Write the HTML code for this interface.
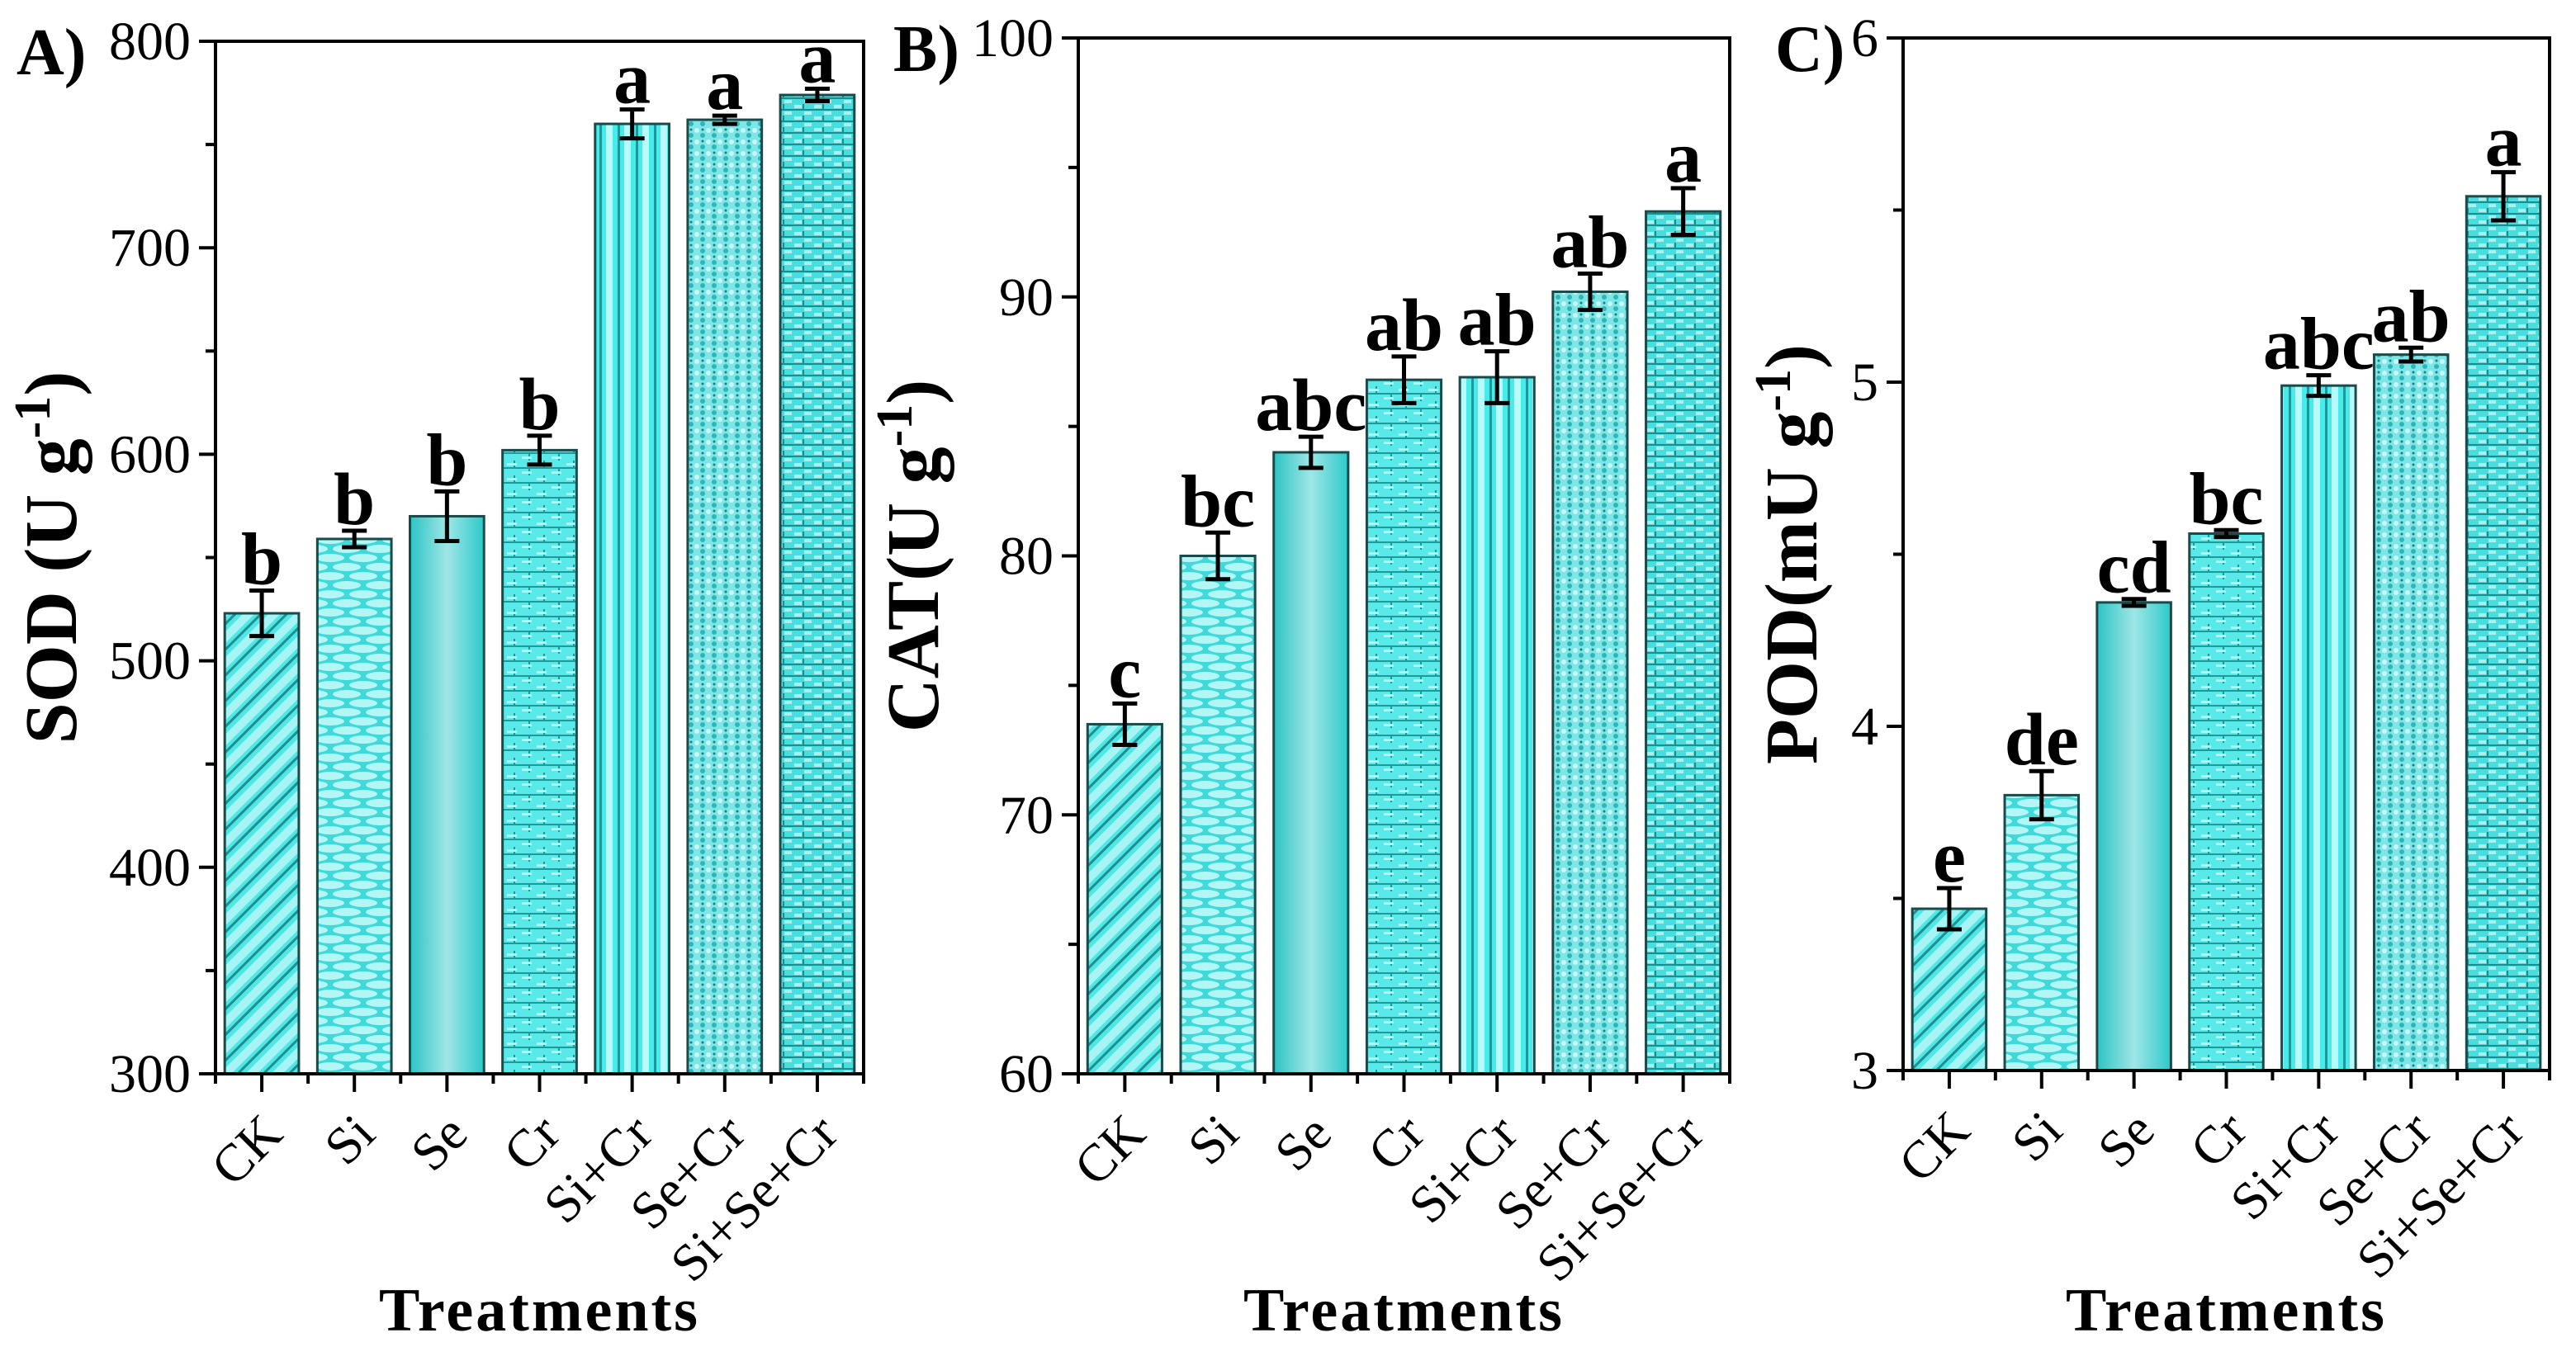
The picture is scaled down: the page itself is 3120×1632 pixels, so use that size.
<!DOCTYPE html>
<html><head><meta charset="utf-8">
<style>
html,body{margin:0;padding:0;background:#fff;}
svg{display:block;font-family:"Liberation Serif",serif;}
</style></head>
<body>
<svg id="chart" width="3120" height="1632" viewBox="0 0 3120 1632" xmlns="http://www.w3.org/2000/svg">
<defs>
  <pattern id="p0" patternUnits="userSpaceOnUse" width="22" height="22" patternTransform="rotate(45)">
    <rect width="22" height="22" fill="#4fe6e6"/><rect x="0" y="0" width="3" height="22" fill="#1f8f8f"/><rect x="8" width="10" height="22" fill="#a6f4f4"/>
  </pattern>
  <pattern id="p1" patternUnits="userSpaceOnUse" width="40" height="22">
    <rect width="40" height="22" fill="#3fd9d9"/><ellipse cx="20" cy="5" rx="17" ry="5" fill="#b3f6f6"/><ellipse cx="0" cy="16" rx="17" ry="5" fill="#b3f6f6"/><ellipse cx="40" cy="16" rx="17" ry="5" fill="#b3f6f6"/>
  </pattern>
  <linearGradient id="p2" x1="0" x2="1" y1="0" y2="0">
    <stop offset="0" stop-color="#2cc4c4"/><stop offset="0.5" stop-color="#9fe6e6"/><stop offset="1" stop-color="#2ccaca"/>
  </linearGradient>
  <pattern id="p3" patternUnits="userSpaceOnUse" width="36" height="18">
    <rect width="36" height="18" fill="#5ae9e9"/><rect y="8" width="36" height="2" fill="#1f9a9a"/><rect x="10" y="0" width="2" height="8" fill="#1f9a9a"/><rect x="28" y="10" width="2" height="8" fill="#1f9a9a"/><rect x="2" y="3" width="12" height="3" fill="#b8f7f7"/><rect x="20" y="13" width="12" height="3" fill="#b8f7f7"/>
  </pattern>
  <pattern id="p4" patternUnits="userSpaceOnUse" width="22" height="10">
    <rect width="22" height="10" fill="#49eaea"/><rect x="0" width="3" height="10" fill="#169a9a"/><rect x="8" width="8" height="10" fill="#b6fafa"/>
  </pattern>
  <pattern id="p5" patternUnits="userSpaceOnUse" width="14" height="14">
    <rect width="14" height="14" fill="#7ee6e6"/><circle cx="4" cy="4" r="3" fill="#c8f7f7"/><circle cx="11" cy="10" r="3" fill="#2fb7b7"/><circle cx="11" cy="3" r="1.5" fill="#167f7f"/>
  </pattern>
  <pattern id="p6" patternUnits="userSpaceOnUse" width="24" height="14">
    <rect width="24" height="14" fill="#48dede"/><rect y="6" width="24" height="2" fill="#1b8f8f"/><rect x="2" y="1" width="9" height="4" fill="#a8f1f1"/><rect x="14" y="9" width="9" height="4" fill="#a8f1f1"/><rect x="12" y="0" width="2" height="6" fill="#1b8f8f"/>
  </pattern>
</defs>
</svg>
<script>
const categories = ["CK","Si","Se","Cr","Si+Cr","Se+Cr","Si+Se+Cr"];
const sodValues = [523, 559, 570, 602, 760, 762, 774];
const sodErrors = [11, 4, 12, 7, 7, 2, 3];
const sodLetters = ["b","b","b","b","a","a","a"];
const sodTicks = [300, 400, 500, 600, 700, 800];
const catValues = [73.5, 80.0, 84.0, 86.8, 86.9, 90.2, 93.3];
const catErrors = [0.8, 0.9, 0.6, 0.9, 1.0, 0.7, 0.9];
const catLetters = ["c","bc","abc","ab","ab","ab","a"];
const catTicks = [60, 70, 80, 90, 100];
const podValues = [3.47, 3.80, 4.36, 4.56, 4.99, 5.08, 5.54];
const podErrors = [0.06, 0.07, 0.01, 0.01, 0.03, 0.02, 0.07];
const podLetters = ["e","de","cd","bc","abc","ab","a"];
const podTicks = [3, 4, 5, 6];

const NS = "http://www.w3.org/2000/svg";
const svg = document.getElementById("chart");
function mk(tag, attrs, parent, text){
  const e = document.createElementNS(NS, tag);
  for (const k in attrs) e.setAttribute(k, attrs[k]);
  if (text !== undefined) e.textContent = text;
  (parent||svg).appendChild(e);
  return e;
}
const fills = ["url(#p0)","url(#p1)","url(#p2)","url(#p3)","url(#p4)","url(#p5)","url(#p6)"];

function panel(id, label, title, titleSup, x0, x1, y0, y1, ticks, values, errors, letters, titleX, labelX){
  const g = mk("g", {});
  
  
  const lo = ticks[0], hi = ticks[ticks.length-1];
  const yS = v => y1 - (v - lo) / (hi - lo) * (y1 - y0);
  const slot = (x1 - x0) / categories.length;
  const xS = i => x0 + slot * (i + 0.5);
  const bw = slot * 0.8;
  values.forEach((v, i) => {
    const r = mk("rect", {x: xS(i) - bw/2, y: yS(v), width: bw, height: y1 - yS(v), fill: fills[i], stroke: "#1a4a4a", "stroke-width": 3}, g);
    
    
    const e = errors[i], cx = xS(i);
    const eb = mk("path", {d: `M${cx},${yS(v+e)}V${yS(v-e)}M${cx-15},${yS(v+e)}H${cx+15}M${cx-15},${yS(v-e)}H${cx+15}`, stroke: "#000", "stroke-width": 5, fill: "none"}, g);
    
    
    const t = mk("text", {x: cx, y: yS(v+e) - 8, "text-anchor": "middle", "font-size": 90, "font-weight": "bold"}, g, letters[i]);
    
    
    const c = mk("text", {x: 0, y: 0, "text-anchor": "end", "font-size": 64, transform: `translate(${cx+28},${y1+76}) rotate(-45)`}, g, categories[i]);
    
    
  });
  for (let i = 0; i <= categories.length; i++){
    mk("line", {x1: x0 + slot*i, x2: x0 + slot*i, y1: y1, y2: y1 + 12, stroke: "#000", "stroke-width": 4}, g);
    if (i < categories.length) mk("line", {x1: xS(i), x2: xS(i), y1: y1, y2: y1 + 22, stroke: "#000", "stroke-width": 4}, g);
  }
  ticks.forEach((t, k) => {
    const y = yS(t);
    mk("line", {x1: x0 - 20, x2: x0, y1: y, y2: y, stroke: "#000", "stroke-width": 4}, g);
    if (k < ticks.length - 1){
      const ym = yS((t + ticks[k+1]) / 2);
      mk("line", {x1: x0 - 12, x2: x0, y1: ym, y2: ym, stroke: "#000", "stroke-width": 4}, g);
    }
    const tl = mk("text", {x: x0 - 30, y: y + 22, "text-anchor": "end", "font-size": 66}, g, String(t));
    
    
  });
  const frame = mk("rect", {x: x0, y: y0, width: x1 - x0, height: y1 - y0, fill: "none", stroke: "#000", "stroke-width": 4}, g);
  
  
  const pl = mk("text", {x: labelX, y: y0 + 40, "font-size": 80, "font-weight": "bold"}, g, label);
  
  
  const yt = mk("text", {x: 0, y: 0, "text-anchor": "middle", "font-size": 90, "font-weight": "bold", transform: `translate(${titleX},${(y0+y1)/2}) rotate(-90)`}, g);
  
  
  const t1 = document.createElementNS(NS, "tspan"); t1.textContent = title; yt.appendChild(t1);
  const t2 = document.createElementNS(NS, "tspan"); t2.setAttribute("dy", "-32"); t2.setAttribute("font-size", "62"); t2.textContent = titleSup; yt.appendChild(t2);
  const t3 = document.createElementNS(NS, "tspan"); t3.setAttribute("dy", "32"); t3.textContent = ")"; yt.appendChild(t3);
  const xt = mk("text", {x: (x0+x1)/2, y: 1612, "text-anchor": "middle", "font-size": 74, "font-weight": "bold", "letter-spacing": 3}, g, "Treatments");
  
  
}
panel("sod", "A)", "SOD (U g", "-1", 261, 1046, 50, 1301, sodTicks, sodValues, sodErrors, sodLetters, 92, 20);
panel("cat", "B)", "CAT(U g", "-1", 1306, 2095, 46, 1301, catTicks, catValues, catErrors, catLetters, 1136, 1082);
panel("pod", "C)", "POD(mU g", "-1", 2305, 3088, 46, 1297, podTicks, podValues, podErrors, podLetters, 2200, 2150);
</script>
</body></html>
